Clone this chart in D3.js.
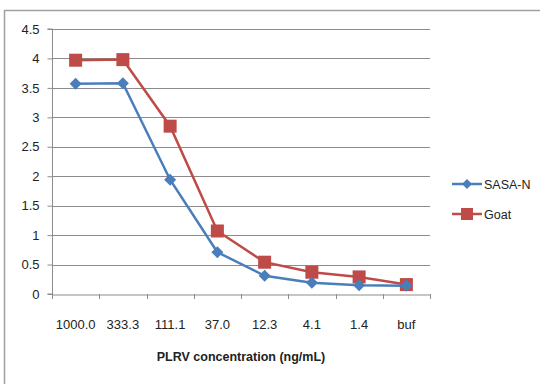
<!DOCTYPE html>
<html><head><meta charset="utf-8">
<script src="https://cdn.jsdelivr.net/npm/d3@7"></script>
<style>body{margin:0;background:#fff}svg{display:block}</style>
</head><body>
<svg id="c" width="540" height="384"></svg>
<script>
const categories = ["1000.0","333.3","111.1","37.0","12.3","4.1","1.4","buf"];
const sasaN = [3.57,3.58,1.94,0.71,0.31,0.19,0.15,0.14];
const goat  = [3.97,3.98,2.85,1.07,0.54,0.37,0.29,0.16];
const yTicks = [0,0.5,1,1.5,2,2.5,3,3.5,4,4.5];
const seriesNames = ["SASA-N","Goat"];

const svg = d3.select("#c");
const font = "'Liberation Sans', Arial, sans-serif";
svg.append("rect").attr("x",4.5).attr("y",10.5).attr("width",600).attr("height",400)
  .attr("fill","#fff").attr("stroke","#a0a0a0").attr("stroke-width",1.5);

const L=52,R=430,T=29,B=294;
const x = d3.scaleBand().domain(categories).range([L,R]);
const y = d3.scaleLinear().domain([0,4.5]).range([B,T]);

// gridlines
svg.append("g").selectAll("line").data(yTicks.filter(d=>d>0)).join("line")
  .attr("x1",L).attr("x2",R).attr("y1",d=>Math.round(y(d))+0.5).attr("y2",d=>Math.round(y(d))+0.5)
  .attr("stroke","#8c8c8c").attr("stroke-width",1);

// y axis
const ya = svg.append("g").attr("transform",`translate(${L+0.5},0)`)
  .call(d3.axisLeft(y).tickValues(yTicks).tickSize(5).tickPadding(8).tickFormat(d=>String(d)));
ya.select(".domain").attr("stroke","#8c8c8c").attr("d",`M-5,${T}H0V${B}H-5`);
ya.selectAll(".tick line").attr("stroke","#8c8c8c");
ya.selectAll(".tick text").attr("font-family",font).attr("font-size",13).attr("fill","#222");

// x axis
const xa = svg.append("g").attr("transform",`translate(0,${B+0.5})`)
  .call(d3.axisBottom(x).tickSize(0).tickPadding(25));
xa.select(".domain").attr("stroke","#8c8c8c");
xa.selectAll(".tick text").attr("font-family",font).attr("font-size",13).attr("fill","#222");
svg.append("g").selectAll("line").data(categories.concat(["end"])).join("line")
  .attr("x1",(d,i)=>Math.round(L+i*x.bandwidth())+0.5).attr("x2",(d,i)=>Math.round(L+i*x.bandwidth())+0.5)
  .attr("y1",B).attr("y2",B+5).attr("stroke","#8c8c8c");

svg.append("text").attr("x",(L+R)/2).attr("y",361).attr("text-anchor","middle")
  .attr("font-family",font).attr("font-size",12.5).attr("font-weight","bold").attr("fill","#222")
  .text("PLRV concentration (ng/mL)");

const cx = d=>x(d)+x.bandwidth()/2;
const line = d3.line().x((d,i)=>cx(categories[i])).y(d=>y(d));
const blue="#4a7ebb", red="#be4b48";

svg.append("path").datum(goat).attr("d",line).attr("fill","none").attr("stroke",red).attr("stroke-width",2.5);
svg.append("g").selectAll("rect").data(goat).join("rect")
  .attr("x",(d,i)=>cx(categories[i])-6.5).attr("y",d=>y(d)-6.5).attr("width",13).attr("height",13).attr("fill",red);

svg.append("path").datum(sasaN).attr("d",line).attr("fill","none").attr("stroke",blue).attr("stroke-width",2.5);
const dia = "M0,-6L6,0L0,6L-6,0Z";
svg.append("g").selectAll("path").data(sasaN).join("path")
  .attr("transform",(d,i)=>`translate(${cx(categories[i])},${y(d)})`).attr("d",dia).attr("fill",blue);

// legend
const lg = [{n:seriesNames[0],c:blue,y:184,m:"d"},{n:seriesNames[1],c:red,y:214,m:"s"}];
lg.forEach(e=>{
  svg.append("line").attr("x1",452).attr("x2",482).attr("y1",e.y).attr("y2",e.y).attr("stroke",e.c).attr("stroke-width",2.5);
  if(e.m==="d") svg.append("path").attr("transform",`translate(467,${e.y})`).attr("d","M0,-5L5,0L0,5L-5,0Z").attr("fill",e.c);
  else svg.append("rect").attr("x",461).attr("y",e.y-6).attr("width",12).attr("height",12).attr("fill",e.c);
  svg.append("text").attr("x",484).attr("y",e.y+4.5).attr("font-family",font).attr("font-size",12.5).attr("fill","#222").text(e.n);
});
</script>
</body></html>
